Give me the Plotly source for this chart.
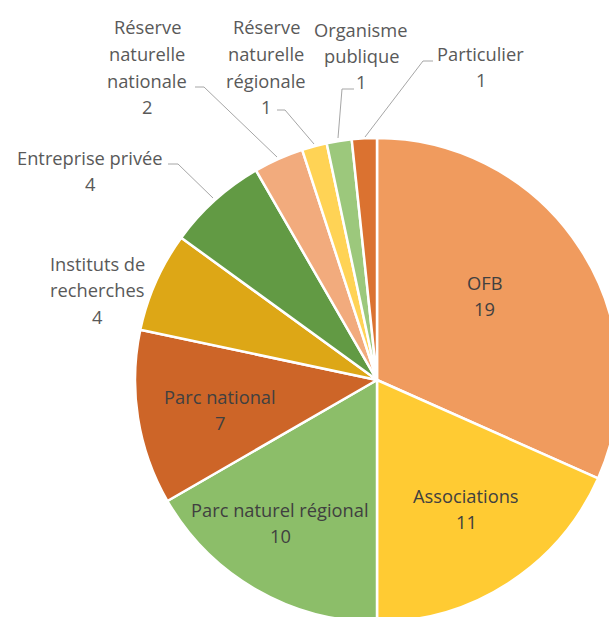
import plotly.graph_objects as go

# ---- data ----
names = ["OFB", "Associations", "Parc naturel régional", "Parc national",
         "Instituts de recherches", "Entreprise privée",
         "Réserve naturelle nationale", "Réserve naturelle régionale",
         "Organisme publique", "Particulier"]
values = [19, 11, 10, 7, 4, 4, 2, 1, 1, 1]
label_text = ["OFB", "Associations", "Parc naturel régional", "Parc national",
              "Instituts de<br>recherches", "Entreprise privée",
              "Réserve<br>naturelle<br>nationale", "Réserve<br>naturelle<br>régionale",
              "Organisme<br>publique", "Particulier"]
colors = ["#F09B5E", "#FFCB33", "#8CBE69", "#CD6528", "#DDA716",
          "#629A44", "#F2AB7D", "#FFD355", "#9CC87C", "#DB7230"]

# ---- layout helpers (pixel geometry of the page) ----
W, H = 630, 630
CX, CY, R = 377, 380, 242


def px(x):
    return x / W


def py(y):
    return 1 - y / H


# label anchor (centre of first line) in pixels
label_pos = [(484, 282), (466, 495), (280, 509), (220, 396), (97, 263),
             (90, 157), (147, 27), (266, 27), (361, 29), (481, 53)]
inside = [True, True, True, True, False, False, False, False, False, False]
LINE = 26.5

leaders = [
    None, None, None, None, None,
    [(168, 164), (178, 164), (213, 198)],
    [(195, 87), (204, 87), (277, 157)],
    [(277, 110), (285, 110), (314, 144)],
    [(354, 89), (342, 89), (338, 138)],
    [(433, 61), (423, 61), (365, 137)],
]

FONT = "Open Sans"
FS = 18.3

fig = go.Figure(go.Pie(
    labels=names, values=values, sort=False, direction="clockwise",
    rotation=0, textinfo="none", hoverinfo="label+value",
    marker=dict(colors=colors, line=dict(color="white", width=2.5)),
    domain=dict(x=[px(CX - R), px(CX + R)], y=[py(CY + R), py(CY - R)]),
    showlegend=False,
))

annotations = []
shapes = []
for i, (txt, v) in enumerate(zip(label_text, values)):
    lines = txt.split("<br>") + [str(v)]
    x0, y0 = label_pos[i]
    col = "#404040" if inside[i] else "#595959"
    for k, ln in enumerate(lines):
        annotations.append(dict(
            x=px(x0), y=py(y0 + k * LINE), xref="paper", yref="paper",
            text=ln, showarrow=False, xanchor="center", yanchor="middle",
            font=dict(family=FONT, size=FS, color=col)))
    if leaders[i]:
        pts = leaders[i]
        path = "M " + " L ".join(f"{px(a)},{py(b)}" for a, b in pts)
        shapes.append(dict(type="path", path=path, xref="paper", yref="paper",
                           line=dict(color="#A6A6A6", width=1)))

fig.update_layout(
    width=W, height=H, autosize=False,
    margin=dict(l=0, r=0, t=0, b=0),
    paper_bgcolor="white", plot_bgcolor="white",
    annotations=annotations, shapes=shapes,
    font=dict(family=FONT),
)

fig.write_html("out.html", config={"displayModeBar": False},
               post_script="document.body.style.margin='0';document.body.style.overflow='hidden';")
